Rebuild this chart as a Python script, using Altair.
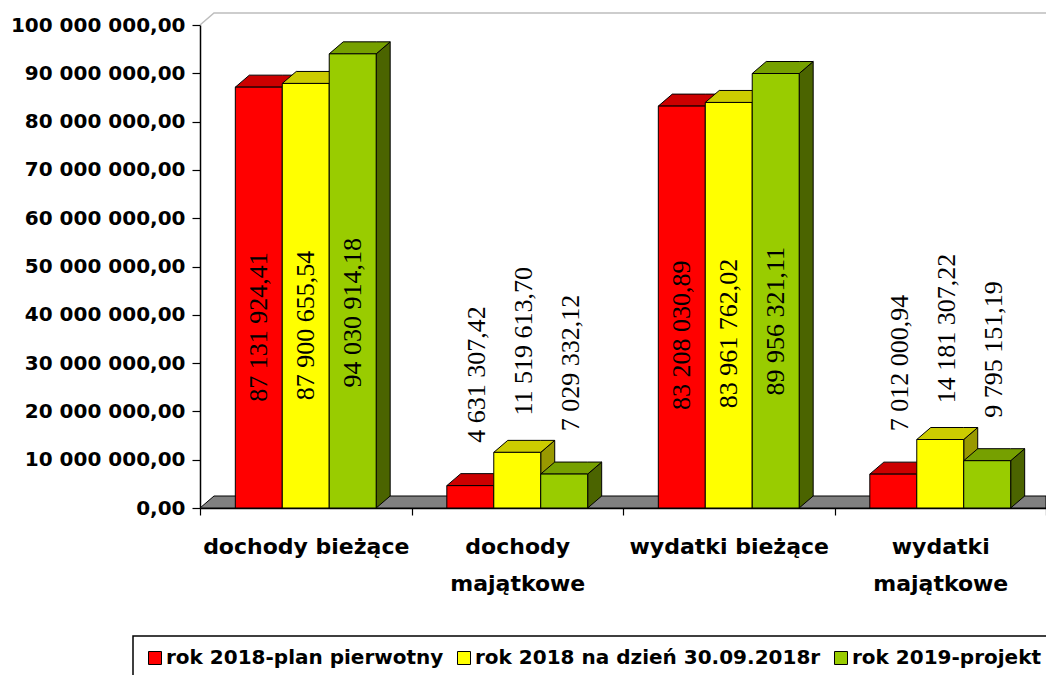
import altair as alt
import pandas as pd

# ---------------- data ----------------
categories = ["dochody bieżące", "dochody majątkowe", "wydatki bieżące", "wydatki majątkowe"]
category_lines = [["dochody bieżące"], ["dochody", "majątkowe"], ["wydatki bieżące"], ["wydatki", "majątkowe"]]
series = ["rok 2018-plan pierwotny", "rok 2018 na dzień 30.09.2018r", "rok 2019-projekt"]
plan_2018 = [87131924.41, 4631307.42, 83208030.89, 7012000.94]
stan_2018 = [87900655.54, 11519613.70, 83961762.02, 14181307.22]
projekt_2019 = [94030914.18, 7029332.12, 89956321.11, 9795151.19]
y_ticks = [0, 10e6, 20e6, 30e6, 40e6, 50e6, 60e6, 70e6, 80e6, 90e6, 100e6]

# ---------------- style ----------------
front_colors = ["#FF0000", "#FFFF00", "#99CC00"]
top_colors = ["#CC0000", "#CCCC00", "#76A000"]
side_colors = ["#990000", "#999900", "#4B6400"]
W, H = 846, 483
Y_MAX = 100e6
BAR_W = 0.222            # bar width in category units
OFF = (1 - 3 * BAR_W) / 2
DX = 14 / (W / 4)        # 3D depth, x units
DY = 12 / H * Y_MAX      # 3D depth, y units


def fmt(v):
    return f"{v:,.2f}".replace(",", " ").replace(".", ",")


values = [plan_2018, stan_2018, projekt_2019]
bars, tops, sides = [], [], []
for c in range(len(categories)):
    for s in range(len(series)):
        v = values[s][c]
        x0 = c + OFF + s * BAR_W
        x1 = x0 + BAR_W
        bid = f"{c}-{s}"
        inside = v > 50e6
        bars.append(dict(bar=bid, series=series[s], x=x0, x1=x1, y=v, base=0.0,
                         label=fmt(v),
                         lx=(x0 + x1) / 2 if inside else (x0 + x1) / 2 + DX / 2,
                         ly=0.43 * v if inside else v + 23e6))
        for xx, yt, yb in [(x0, v, v), (x0 + DX, v + DY, v), (x1, v + DY, v), (x1 + DX, v + DY, v + DY)]:
            tops.append(dict(bar=bid, series=series[s], x=xx, y=yt, yb=yb))
        for xx, yt, yb in [(x1, v, 0.0), (x1 + DX, v + DY, DY)]:
            sides.append(dict(bar=bid, series=series[s], x=xx, y=yt, yb=yb))

bars = pd.DataFrame(bars)
tops = pd.DataFrame(tops)
sides = pd.DataFrame(sides)
floor = pd.DataFrame(dict(x=[0, DX, 4], y=[0, DY, DY], yb=[0, 0, 0]))
wall = pd.DataFrame(dict(x=[0, DX, 4], y=[Y_MAX, Y_MAX + DY, Y_MAX + DY]))

XS = alt.Scale(domain=[0, 4], nice=False, zero=False)
YS = alt.Scale(domain=[0, Y_MAX], nice=False)

# x axis: ticks at category boundaries, labels at centres
label_expr = ""
for i, lines in enumerate(category_lines):
    arr = "[" + ", ".join(f"'{t}'" for t in lines) + "]"
    label_expr += f"datum.value == {i + 0.5} ? {arr} : "
label_expr += "''"

x_axis = alt.Axis(
    values=[0, 0.5, 1, 1.5, 2, 2.5, 3, 3.5, 4],
    labelExpr=label_expr,
    tickOpacity={"condition": {"test": "datum.value % 1 == 0", "value": 1}, "value": 0},
    title=None, grid=False, labelOverlap=False, labelFlush=False, labelLimit=0,
    labelFont="DejaVu Sans", labelFontWeight="bold", labelFontSize=22,
    labelLineHeight=37, labelPadding=21, labelColor="black",
    tickSize=7, tickColor="black", domainColor="black", domainWidth=1.5, tickWidth=1.2,
)
y_axis = alt.Axis(
    values=y_ticks,
    labelExpr="replace(replace(format(datum.value, ',.2f'), regexp(',', 'g'), ' '), '.', ',')",
    title=None, grid=False, labelLimit=0,
    labelFont="DejaVu Sans", labelFontWeight="bold", labelFontSize=20, labelColor="black",
    labelPadding=7, tickSize=8, tickColor="black", domainColor="black", domainWidth=1.5, tickWidth=1.2,
)


def X(field="x"):
    return alt.X(f"{field}:Q", scale=XS, axis=x_axis)


def Y(field="y"):
    return alt.Y(f"{field}:Q", scale=YS, axis=y_axis, stack=None)


floor_layer = alt.Chart(floor).mark_area(color="#808080", stroke="black", strokeWidth=1).encode(
    x=X(), y=Y(), y2="yb:Q",
)
wall_layer = alt.Chart(wall).mark_line(color="#BDBDBD", strokeWidth=1.5).encode(
    x=X(), y=Y(),
)
side_layer = alt.Chart(sides).mark_area(stroke="black", strokeWidth=1, opacity=1).encode(
    x=X(), y=Y(), y2="yb:Q",
    detail="bar:N",
    fill=alt.Fill("series:N", scale=alt.Scale(domain=series, range=side_colors), legend=None),
)
top_layer = alt.Chart(tops).mark_area(stroke="black", strokeWidth=1, opacity=1).encode(
    x=X(), y=Y(), y2="yb:Q",
    detail="bar:N",
    fill=alt.Fill("series:N", scale=alt.Scale(domain=series, range=top_colors), legend=None),
)
front_layer = alt.Chart(bars).mark_rect(stroke="black", strokeWidth=1, opacity=1).encode(
    x=X(), x2="x1:Q", y=Y(), y2="base:Q",
    color=alt.Color(
        "series:N",
        scale=alt.Scale(domain=series, range=front_colors),
        legend=alt.Legend(
            title=None, orient="none", legendX=-67, legendY=611, direction="horizontal", columns=3,
            symbolType="square", symbolSize=169, symbolStrokeColor="black", symbolStrokeWidth=1,
            symbolOpacity=1,
            labelFont="DejaVu Sans", labelFontWeight="bold", labelFontSize=20, labelColor="black",
            labelOffset=1, columnPadding=10, padding=12,
            strokeColor="black", labelLimit=0,
        ),
    ),
)
label_layer = alt.Chart(bars).mark_text(
    angle=270, font="Liberation Serif", fontSize=26, align="center", baseline="middle", color="black"
).encode(
    x=X("lx"), y=Y("ly"),
    text="label:N",
)

chart = (
    alt.layer(floor_layer, wall_layer, side_layer, top_layer, front_layer, label_layer)
    .resolve_scale(fill="independent")
    .properties(
        width=W, height=H,
        padding={"left": 192, "top": 17, "right": 0, "bottom": 167},
        autosize=alt.AutoSizeParams(type="none"),
        background="white",
    )
    .configure_view(stroke=None)
    .configure_legend(strokeWidth=1.5)
)

chart.save("out.html", embed_options={"renderer": "svg", "actions": False})
